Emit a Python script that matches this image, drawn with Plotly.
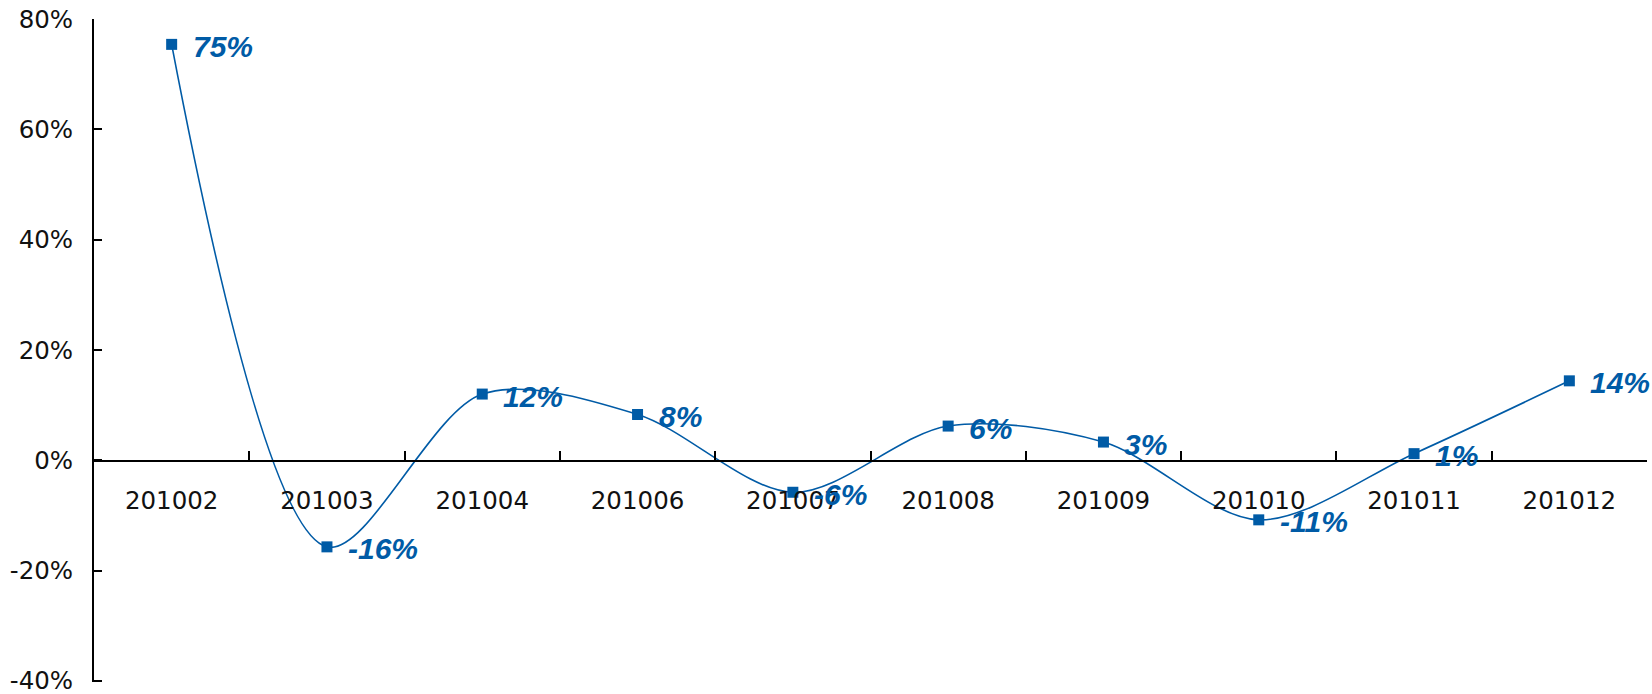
import plotly.graph_objects as go

categories = ["201002", "201003", "201004", "201006", "201007", "201008", "201009", "201010", "201011", "201012"]
values = [75.4, -15.7, 12.0, 8.3, -5.8, 6.2, 3.3, -10.8, 1.2, 14.4]
labels = ["75%", "-16%", "12%", "8%", "-6%", "6%", "3%", "-11%", "1%", "14%"]
y_ticks = [-40, -20, 0, 20, 40, 60, 80]
y_tick_text = ["-40%", "-20%", "0%", "20%", "40%", "60%", "80%"]

blue = "#005BA6"

fig = go.Figure()
fig.add_trace(go.Scatter(
    x=categories, y=values, mode="lines+markers",
    line=dict(color=blue, width=1.6, shape="spline", smoothing=0.9),
    marker=dict(symbol="square", size=11, color=blue),
    showlegend=False, hoverinfo="skip",
))

for i, (v, t) in enumerate(zip(values, labels)):
    fig.add_annotation(x=i, y=v, xref="x", yref="y", text=t, showarrow=False,
                       xanchor="left", yanchor="middle",
                       xshift=19, yshift=-2,
                       font=dict(family="Liberation Sans", size=30, color=blue, weight="bold", style="italic"))

fig.update_layout(
    width=1652, height=694,
    margin=dict(l=94, r=5, t=19, b=12),
    plot_bgcolor="white", paper_bgcolor="white",
    xaxis=dict(
        type="category", range=[-0.5, 9.5], anchor="free", position=1/3,
        showline=True, linecolor="black", linewidth=2,
        ticks="inside", ticklen=9, tickwidth=1.5, tickcolor="black", tickson="boundaries",
        showgrid=False, zeroline=False, automargin=False,
        ticklabelstandoff=18,
        tickfont=dict(family="DejaVu Sans", size=24.5, color="#111111"),
    ),
    yaxis=dict(
        range=[-40.2, 80], tickvals=y_ticks, ticktext=y_tick_text,
        showline=True, linecolor="black", linewidth=2,
        ticks="inside", ticklen=8, tickwidth=1.5, tickcolor="black",
        showgrid=False, zeroline=False, automargin=False,
        ticklabelstandoff=14, ticklabeloverflow="allow",
        tickfont=dict(family="DejaVu Sans", size=24.5, color="#111111"),
    ),
)

fig.write_html("out.html")
